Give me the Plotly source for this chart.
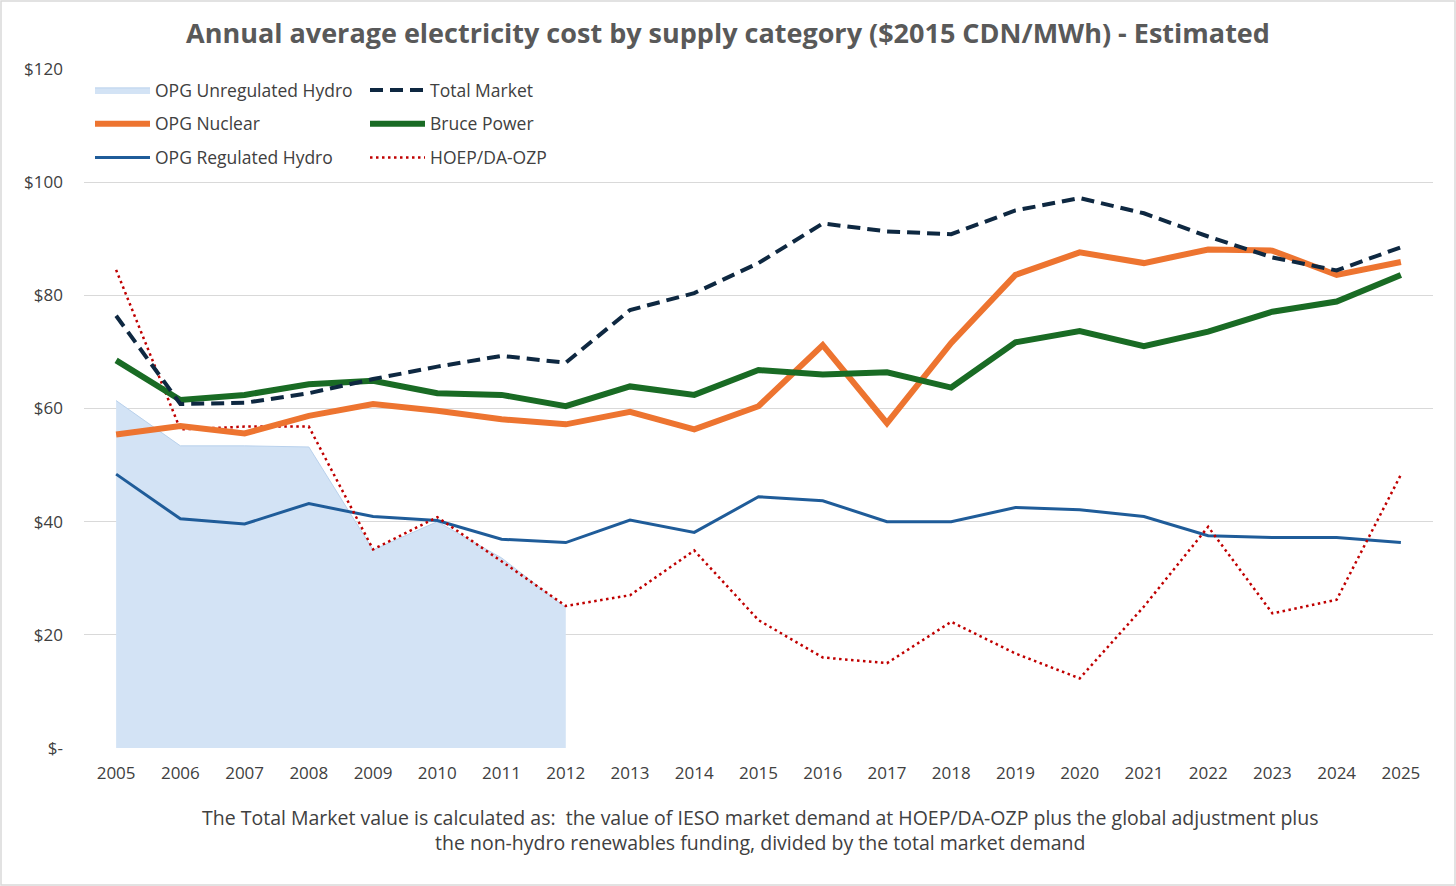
import plotly.graph_objects as go

years = list(range(2005, 2026))
year_labels = [str(y) for y in years]

unreg_years = list(range(2005, 2013))
opg_unregulated_hydro = [61.4, 53.4, 53.4, 53.2, 35.0, 40.0, 33.6, 24.8]

total_market = [76.4, 60.8, 61.0, 62.7, 65.2, 67.4, 69.3, 68.1, 77.4, 80.4, 85.7,
                92.7, 91.3, 90.8, 95.0, 97.2, 94.5, 90.4, 86.7, 84.4, 88.5]
opg_nuclear = [55.4, 56.9, 55.6, 58.7, 60.8, 59.6, 58.1, 57.2, 59.4, 56.3, 60.4,
               71.2, 57.4, 71.6, 83.6, 87.6, 85.7, 88.1, 87.9, 83.6, 85.9]
bruce_power = [68.5, 61.5, 62.4, 64.3, 64.9, 62.7, 62.4, 60.4, 63.9, 62.4, 66.8,
               66.0, 66.4, 63.7, 71.7, 73.7, 71.0, 73.6, 77.1, 78.9, 83.6]
opg_regulated_hydro = [48.4, 40.5, 39.6, 43.2, 40.9, 40.2, 36.9, 36.3, 40.3, 38.1, 44.4,
                       43.7, 40.0, 40.0, 42.5, 42.1, 40.9, 37.5, 37.2, 37.2, 36.3]
hoep = [84.5, 56.3, 56.8, 56.8, 35.1, 40.8, 33.0, 25.1, 27.0, 34.9, 22.6,
        16.0, 15.0, 22.3, 16.7, 12.3, 25.0, 39.1, 23.8, 26.2, 48.3]

y_tickvals = [0, 20, 40, 60, 80, 100, 120]
y_ticktext = ["$-", "$20", "$40", "$60", "$80", "$100", "$120"]

title_text = "Annual average electricity cost by supply category ($2015 CDN/MWh) - Estimated"
note_text = ("The Total Market value is calculated as:  the value of IESO market demand at HOEP/DA-OZP plus the global adjustment plus"
             "<br>the non-hydro renewables funding, divided by the total market demand")

W, H = 1456, 886
ML, MR, MT, MB = 84, 23, 69, 138
PW, PH = W - ML - MR, H - MT - MB

FONT = "Open Sans"
fig = go.Figure()

fig.add_trace(go.Scatter(
    x=unreg_years, y=opg_unregulated_hydro, name="OPG Unregulated Hydro",
    mode="lines", fill="tozeroy", fillcolor="#D3E3F5",
    line=dict(color="#B9D1EC", width=1), legend="legend", legendrank=1,
    legendgroup="a"))
fig.add_trace(go.Scatter(
    x=years, y=opg_regulated_hydro, name="OPG Regulated Hydro", mode="lines",
    line=dict(color="#1F5C99", width=3), legend="legend", legendrank=3,
    legendgroup="c"))
fig.add_trace(go.Scatter(
    x=years, y=hoep, name="HOEP/DA-OZP", mode="lines",
    line=dict(color="#C00000", width=2.5, dash="2.5px,3.5px"), legend="legend2",
    legendrank=3, legendgroup="f"))
fig.add_trace(go.Scatter(
    x=years, y=opg_nuclear, name="OPG Nuclear", mode="lines",
    line=dict(color="#ED7430", width=6), legend="legend", legendrank=2,
    legendgroup="b"))
fig.add_trace(go.Scatter(
    x=years, y=bruce_power, name="Bruce Power", mode="lines",
    line=dict(color="#196B24", width=6), legend="legend2", legendrank=2,
    legendgroup="e"))
fig.add_trace(go.Scatter(
    x=years, y=total_market, name="Total Market", mode="lines",
    line=dict(color="#0E2841", width=4, dash="13px,7px"), legend="legend2",
    legendrank=1, legendgroup="d"))

legend_common = dict(
    font=dict(family=FONT, size=17.5, color="#404040"),
    bgcolor="rgba(255,255,255,0)", borderwidth=0,
    itemwidth=55, tracegroupgap=8, traceorder="grouped",
    xanchor="left", yanchor="top", itemclick=False,
)

fig.update_layout(
    width=W, height=H,
    margin=dict(l=ML, r=MR, t=MT, b=MB),
    paper_bgcolor="white", plot_bgcolor="white",
    font=dict(family=FONT, color="#595959"),
    title=dict(text="<b>" + title_text + "</b>", x=0.5, xanchor="center",
               y=1 - 34 / H, yanchor="middle",
               font=dict(family=FONT, size=27, color="#595959")),
    showlegend=True,
    legend=dict(x=(90 - ML) / PW, y=(H - MB - 72) / PH, **legend_common),
    legend2=dict(x=(365 - ML) / PW, y=(H - MB - 72) / PH, **legend_common),
    xaxis=dict(range=[2004.5, 2025.5], tickmode="array", tickvals=years,
               ticktext=year_labels, showgrid=False, zeroline=False,
               showline=False, ticks="", ticklabelstandoff=13,
               tickfont=dict(family=FONT, size=17, color="#404040")),
    yaxis=dict(range=[0, 120], tickmode="array", tickvals=y_tickvals,
               ticktext=y_ticktext, showgrid=True, gridcolor="#D9D9D9",
               gridwidth=1.3, zeroline=False, showline=False, ticks="",
               ticklabelstandoff=20,
               tickfont=dict(family=FONT, size=17, color="#404040")),
    annotations=[dict(text=note_text, xref="paper", yref="paper",
                      x=(760 - ML) / PW, y=(H - MB - 830) / PH,
                      xanchor="center", yanchor="middle", showarrow=False,
                      align="center",
                      font=dict(family=FONT, size=19.5, color="#404040"))],
    shapes=[dict(type="rect", xref="paper", yref="paper",
                 x0=(1 - ML) / PW, x1=(W - 1 - ML) / PW,
                 y0=(H - MB - (H - 1)) / PH, y1=(H - MB - 1) / PH,
                 line=dict(color="#D9D9D9", width=1.5), layer="below")],
)

fig.write_html("out.html", config={"displayModeBar": False})
with open("out.html", "r", encoding="utf-8") as f:
    html = f.read()
html = html.replace("<head>", "<head><style>html,body{margin:0;padding:0;overflow:hidden;}</style>", 1)
with open("out.html", "w", encoding="utf-8") as f:
    f.write(html)
